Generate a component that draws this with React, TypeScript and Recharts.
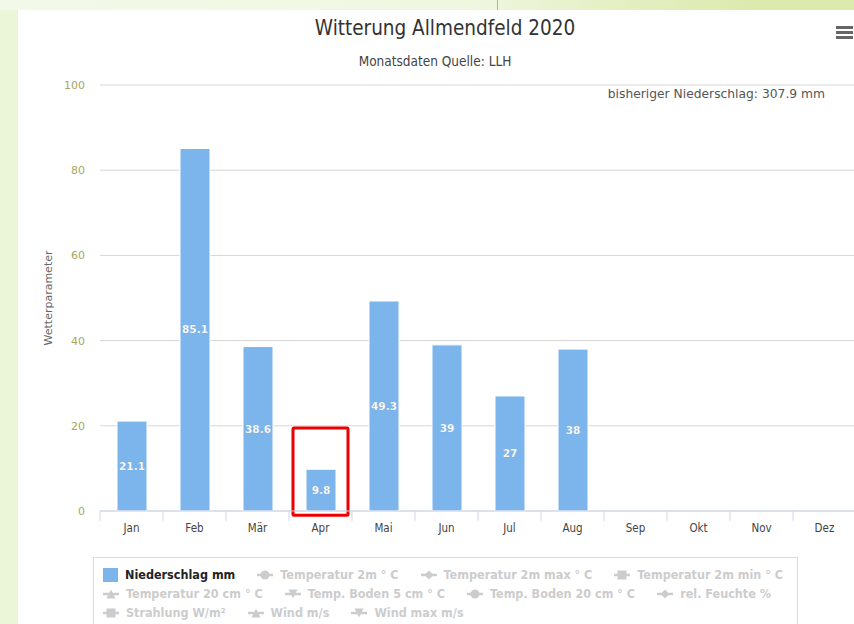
import React from "react";
import {
  BarChart,
  Bar,
  XAxis,
  YAxis,
  CartesianGrid,
  LabelList,
  Legend,
  ReferenceArea,
} from "recharts";

const MONTHS = ["Jan", "Feb", "Mär", "Apr", "Mai", "Jun", "Jul", "Aug", "Sep", "Okt", "Nov", "Dez"];
const NIEDERSCHLAG: (number | null)[] = [21.1, 85.1, 38.6, 9.8, 49.3, 39, 27, 38, null, null, null, null];
const Y_TICKS = [0, 20, 40, 60, 80, 100];
const MARKED_MONTH = "Apr";

// legend: first entry is the visible bar series, the rest are hidden line series
const LEGEND_ROWS: string[][] = [
  ["Niederschlag mm", "Temperatur 2m ° C", "Temperatur 2m max ° C", "Temperatur 2m min ° C"],
  ["Temperatur 20 cm ° C", "Temp. Boden 5 cm ° C", "Temp. Boden 20 cm ° C", "rel. Feuchte %"],
  ["Strahlung W/m²", "Wind m/s", "Wind max m/s"],
];
const MARKERS = ["circle", "diamond", "square", "triangle", "triangle-down"];

const data = MONTHS.map((month, i) => ({ month, niederschlag: NIEDERSCHLAG[i] }));
const total = NIEDERSCHLAG.reduce<number>((s, v) => s + (v ?? 0), 0);

const COND = "'DejaVu Sans Condensed', 'DejaVu Sans', sans-serif";
const SANS = "'DejaVu Sans', Verdana, sans-serif";
const BAR_COLOR = "#7cb5ec";
const HIDDEN = "#cccccc";

function MonthTick(props: any) {
  const { x, y, payload } = props;
  const off = payload.offset ?? 31.5;
  return (
    <g>
      <line x1={x - off} x2={x - off} y1={y} y2={y + 10} stroke="#ccd6eb" />
      <text
        x={x}
        y={y + 17}
        dy="0.355em"
        textAnchor="middle"
        fill="#444"
        fontSize={11.5}
        fontFamily={COND}
      >
        {payload.value}
      </text>
    </g>
  );
}

function Marker({ kind }: { kind: string }) {
  const c = HIDDEN;
  let shape: React.ReactNode = null;
  if (kind === "circle") shape = <circle cx={8} cy={7} r={4.5} fill={c} />;
  if (kind === "diamond") shape = <path d="M8 2.5 L12.5 7 L8 11.5 L3.5 7 Z" fill={c} />;
  if (kind === "square") shape = <rect x={3.5} y={2.5} width={9} height={9} fill={c} />;
  if (kind === "triangle") shape = <path d="M8 2.5 L12.5 11.5 L3.5 11.5 Z" fill={c} />;
  if (kind === "triangle-down") shape = <path d="M3.5 2.5 L12.5 2.5 L8 11.5 Z" fill={c} />;
  return (
    <svg width={16} height={14} style={{ display: "block" }}>
      <line x1={0} x2={16} y1={7} y2={7} stroke={c} strokeWidth={2.5} />
      {shape}
    </svg>
  );
}

function LegendBox() {
  let idx = 0;
  return (
    <div
      style={{
        border: "1px solid #dcdcdc",
        background: "#fff",
        padding: "7px 8px 0 9px",
        height: 80,
        boxSizing: "border-box",
        fontFamily: COND,
        fontSize: 12.5,
        fontWeight: "bold",
      }}
    >
      {LEGEND_ROWS.map((row, r) => (
        <div key={r} style={{ display: "flex", alignItems: "center", height: 19 }}>
          {row.map((name) => {
            const i = idx++;
            const first = i === 0;
            return (
              <div
                key={name}
                style={{ display: "flex", alignItems: "center", marginRight: 22, whiteSpace: "nowrap" }}
              >
                {first ? (
                  <div style={{ width: 15, height: 14, background: BAR_COLOR }} />
                ) : (
                  <Marker kind={MARKERS[(i - 1) % MARKERS.length]} />
                )}
                <span style={{ marginLeft: 7, color: first ? "#222" : HIDDEN }}>{name}</span>
              </div>
            );
          })}
        </div>
      ))}
    </div>
  );
}

export default function App() {
  return (
    <div
      style={{
        position: "absolute",
        left: 0,
        top: 0,
        width: 854,
        height: 624,
        overflow: "hidden",
        background: "#ebf5d7",
      }}
    >
      <div
        style={{
          position: "absolute",
          left: 0,
          top: 0,
          width: 854,
          height: 10,
          background: "linear-gradient(90deg, #f3f9e9 0%, #eff7e0 55%, #e6f0c6 70%, #dceaae 88%, #dceaae 100%)",
        }}
      />
      <div style={{ position: "absolute", left: 497, top: 0, width: 1, height: 14, background: "#b0b0b0" }} />
      <div style={{ position: "absolute", left: 18, top: 10, width: 836, height: 614, background: "#fff" }} />

      <div
        style={{
          position: "absolute",
          left: 245,
          top: 16,
          width: 400,
          textAlign: "center",
          fontFamily: COND,
          fontSize: 20.5,
          color: "#333",
        }}
      >
        Witterung Allmendfeld 2020
      </div>
      <div
        style={{
          position: "absolute",
          left: 285,
          top: 53,
          width: 300,
          textAlign: "center",
          fontFamily: COND,
          fontSize: 13.5,
          color: "#444",
        }}
      >
        Monatsdaten Quelle: LLH
      </div>
      {[27, 32, 37].map((t) => (
        <div
          key={t}
          style={{ position: "absolute", left: 836, top: t - 1, width: 17, height: 3, background: "#666" }}
        />
      ))}

      <div style={{ position: "absolute", left: 0, top: 0 }}>
        <BarChart
          width={880}
          height={624}
          data={data}
          margin={{ top: 85, right: 24, bottom: 83, left: 0 }}
        >
          <CartesianGrid horizontal vertical={false} stroke="#d6d6d6" />
          <XAxis
            dataKey="month"
            height={30}
            axisLine={{ stroke: "#ccd6eb" }}
            tickLine={false}
            tickSize={0}
            tickMargin={0}
            interval={0}
            tick={<MonthTick />}
          />
          <YAxis
            width={100}
            domain={[0, 100]}
            ticks={Y_TICKS}
            axisLine={false}
            tickLine={false}
            tickSize={0}
            tickMargin={15}
            tick={{ fill: "#a6a661", fontSize: 11, fontFamily: SANS }}
            label={{
              value: "Wetterparameter",
              angle: -90,
              position: "center",
              dx: -2,
              fill: "#666",
              fontSize: 11,
              fontFamily: SANS,
            }}
          />
          <Bar
            dataKey="niederschlag"
            name="Niederschlag mm"
            fill={BAR_COLOR}
            stroke="#fff"
            strokeWidth={1}
            barSize={30}
            isAnimationActive={false}
          >
            <LabelList
              dataKey="niederschlag"
              position="center"
              fill="#fff"
              fontSize={10.5}
              fontWeight="bold"
              fontFamily={SANS}
              stroke="rgba(0,0,0,0.12)"
              strokeWidth={0.6}
            />
          </Bar>
          <ReferenceArea
            x1={MARKED_MONTH}
            x2={MARKED_MONTH}
            y1={-1}
            y2={19.5}
            ifOverflow="visible"
            shape={(p: any) => (
              <rect
                x={p.x + 4}
                y={p.y}
                width={p.width - 8}
                height={p.height}
                fill="none"
                stroke="#ee0000"
                strokeWidth={3}
                rx={1}
              />
            )}
          />
          <Legend
            layout="vertical"
            align="center"
            verticalAlign="middle"
            wrapperStyle={{ position: "absolute", left: 93, top: 557, width: 705, height: 80 }}
            content={() => <LegendBox />}
          />
        </BarChart>
      </div>

      <div
        style={{
          position: "absolute",
          right: 29,
          top: 87,
          fontFamily: SANS,
          fontSize: 12.3,
          color: "#555",
          whiteSpace: "nowrap",
        }}
      >
        {`bisheriger Niederschlag: ${total.toFixed(1)} mm`}
      </div>
    </div>
  );
}
